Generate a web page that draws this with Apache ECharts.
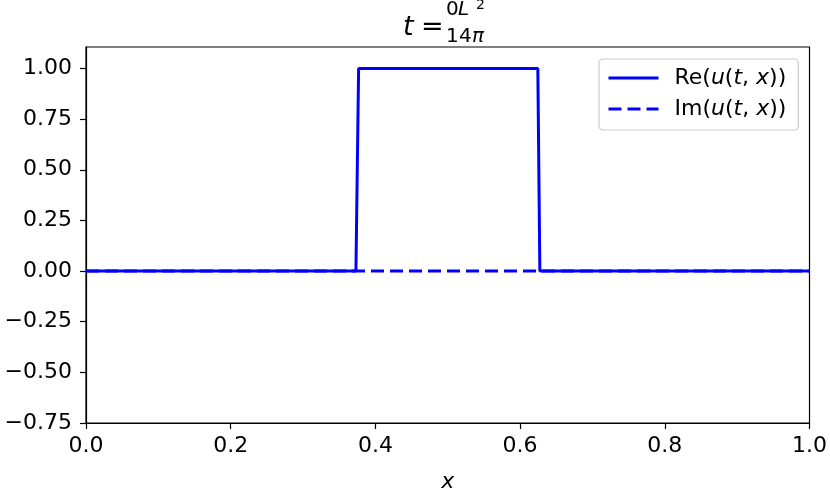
<!DOCTYPE html>
<html>
<head>
<meta charset="utf-8">
<script src="https://cdn.jsdelivr.net/npm/echarts@6/dist/echarts.min.js"></script>
<style>html,body{margin:0;padding:0;background:#fff}#c{width:830px;height:498px}</style>
</head>
<body>
<div id="c"></div>
<script>
// ---- data ----
const reX = [0, 0.3731, 0.3768, 0.6245, 0.6273, 1];
const reY = [0, 0, 1, 1, 0, 0];
const imX = [0, 1];
const imY = [0, 0];
const xTicks = [0, 0.2, 0.4, 0.6, 0.8, 1.0];
const yTicks = [-0.75, -0.5, -0.25, 0, 0.25, 0.5, 0.75, 1.0];
const seriesNames = ['Re(u(t,x))', 'Im(u(t,x))'];
const titleNumerA = '0', titleDenomA = '1';

const FONT = '"DejaVu Sans", sans-serif';
const chart = echarts.init(document.getElementById('c'), null, {renderer: 'canvas'});
const fmtMinus = s => s.replace('-', '\u2212');

function legendFmt(name) {
  const pre = name.slice(0, 2);
  return '{n|' + pre + '(}{i|u}{n|(}{i|t}{n|, }{i|x}{n|))}';
}
function txt(left, top, text, size, italic) {
  return {type: 'text', left: left, top: top,
    style: {text: text, fontSize: size, fontFamily: FONT, fontStyle: italic ? 'italic' : 'normal', fill: '#000'}};
}

const option = {
  animation: false,
  backgroundColor: '#ffffff',
  grid: {left: 86, right: 19, top: 47, bottom: 73, show: true, borderColor: '#000', borderWidth: 1.2, backgroundColor: 'transparent'},
  xAxis: {
    type: 'value', min: 0, max: 1, interval: 0.2,
    name: 'x', nameLocation: 'middle', nameGap: 48,
    nameTextStyle: {fontFamily: FONT, fontSize: 22, fontStyle: 'italic', color: '#000'},
    axisLine: {show: true, onZero: false, lineStyle: {color: '#000', width: 1.2}},
    axisTick: {show: true, inside: false, length: 6, lineStyle: {color: '#000', width: 1.2}},
    axisLabel: {fontFamily: FONT, fontSize: 22, color: '#000', margin: 12, formatter: v => fmtMinus(v.toFixed(1)), showMinLabel: true, showMaxLabel: true},
    splitLine: {show: false}
  },
  yAxis: {
    type: 'value', min: -0.75, max: 1.106, interval: 0.25,
    axisLine: {show: true, onZero: false, lineStyle: {color: '#000', width: 1.2}},
    axisTick: {show: true, inside: false, length: 6, customValues: yTicks, lineStyle: {color: '#000', width: 1.2}},
    axisLabel: {fontFamily: FONT, fontSize: 22, color: '#000', margin: 14, customValues: yTicks, formatter: v => fmtMinus(v.toFixed(2))},
    splitLine: {show: false}
  },
  legend: {
    orient: 'vertical', left: 599, top: 59,
    padding: [8, 12, 10, 8],
    itemWidth: 50, itemHeight: 14, itemGap: 9,
    borderColor: '#cccccc', borderWidth: 1.2, borderRadius: 4,
    backgroundColor: 'rgba(255,255,255,0.8)',
    data: seriesNames,
    formatter: legendFmt,
    itemStyle: {opacity: 0},
    lineStyle: {width: 3},
    textStyle: {
      padding: [0, 0, 0, 11],
      rich: {
        n: {fontFamily: FONT, fontSize: 22, color: '#000', lineHeight: 24},
        i: {fontFamily: FONT, fontSize: 22, fontStyle: 'italic', color: '#000', lineHeight: 24}
      }
    }
  },
  series: [
    {name: seriesNames[0], type: 'line', data: reX.map((x, i) => [x, reY[i]]), symbol: 'none', showSymbol: false,
     lineStyle: {color: '#0000ff', width: 3, type: 'solid'}, itemStyle: {color: '#0000ff'}, z: 2},
    {name: seriesNames[1], type: 'line', data: imX.map((x, i) => [x, imY[i]]), symbol: 'none', showSymbol: false,
     lineStyle: {color: '#0000ff', width: 3, type: [13, 6]}, itemStyle: {color: '#0000ff'}, z: 3}
  ],
  graphic: [
    txt(403, 14, 't', 27, true),
    txt(421, 14, '=', 27, false),
    txt(446, 0, titleNumerA, 20, false),
    txt(446, 27, titleDenomA, 20, false),
    txt(458, 0, 'L', 20, true),
    txt(476, -2, '2', 14, false),
    txt(459, 27, '4', 20, false),
    txt(472, 27, '\u03c0', 20, true)
  ]
};
chart.setOption(option);
</script>
</body>
</html>
